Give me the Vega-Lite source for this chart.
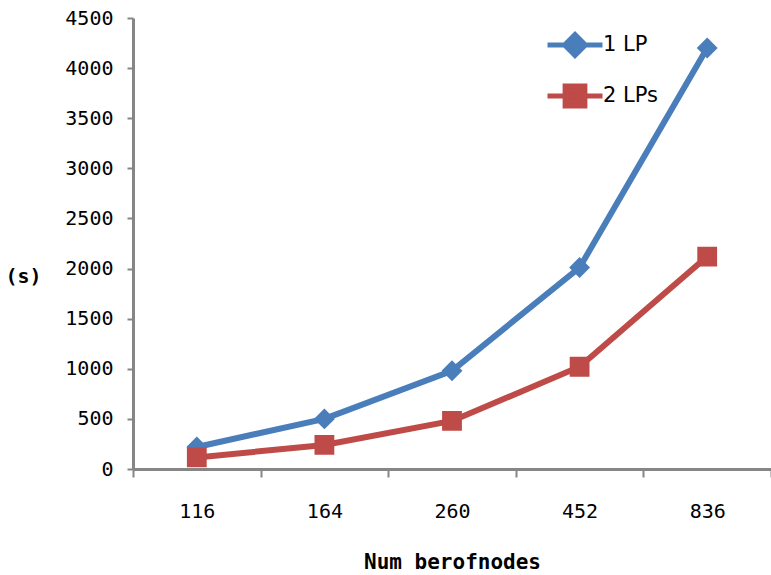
{
  "$schema": "https://vega.github.io/schema/vega-lite/v6.json",
  "autosize": {"type": "none"},
  "width": 638,
  "height": 451,
  "padding": {"left": 133, "top": 18, "right": 0, "bottom": 106},
  "background": "white",
  "config": {"view": {"stroke": null}},
  "data": {
    "values": [
      {"nodes": "116", "series": "1 LP", "time": 220},
      {"nodes": "164", "series": "1 LP", "time": 500},
      {"nodes": "260", "series": "1 LP", "time": 980},
      {"nodes": "452", "series": "1 LP", "time": 2010},
      {"nodes": "836", "series": "1 LP", "time": 4200},
      {"nodes": "116", "series": "2 LPs", "time": 115},
      {"nodes": "164", "series": "2 LPs", "time": 240},
      {"nodes": "260", "series": "2 LPs", "time": 480},
      {"nodes": "452", "series": "2 LPs", "time": 1020},
      {"nodes": "836", "series": "2 LPs", "time": 2120}
    ]
  },
  "encoding": {
    "x": {
      "field": "nodes", "type": "ordinal", "sort": ["116", "164", "260", "452", "836"],
      "scale": {"type": "band", "paddingInner": 0, "paddingOuter": 0},
      "axis": {
        "title": "Num berofnodes", "labelAngle": 0, "tickBand": "extent",
        "domainColor": "#868686", "domainWidth": 3, "tickColor": "#868686", "tickWidth": 2, "tickSize": 8,
        "labelFont": "DejaVu Sans Mono", "labelFontSize": 20, "labelFontWeight": "normal", "labelColor": "black", "labelPadding": 24,
        "titleFont": "DejaVu Sans Mono", "titleFontSize": 21, "titleFontWeight": "bold", "titleColor": "black",
        "titlePadding": 30, "grid": false
      }
    },
    "y": {
      "field": "time", "type": "quantitative",
      "scale": {"domain": [0, 4500], "nice": false},
      "axis": {
        "title": "(s)", "values": [0, 500, 1000, 1500, 2000, 2500, 3000, 3500, 4000, 4500], "format": "d",
        "grid": false, "domainColor": "#868686", "domainWidth": 3, "tickColor": "#868686", "tickWidth": 2, "tickSize": 6,
        "labelFont": "DejaVu Sans Mono", "labelFontSize": 20, "labelFontWeight": "normal", "labelColor": "black", "labelPadding": 14,
        "titleFont": "DejaVu Sans Mono", "titleFontSize": 20, "titleFontWeight": "bold", "titleColor": "black",
        "titleAngle": 0, "titleX": -110, "titleY": 258, "titleAlign": "center", "titleBaseline": "middle"
      }
    },
    "color": {
      "field": "series", "type": "nominal",
      "scale": {"domain": ["1 LP", "2 LPs"], "range": ["#4A7EBB", "#BE4B48"]},
      "legend": {
        "title": null, "orient": "none", "legendX": 412, "legendY": -3, "padding": 0,
        "symbolSize": 3025, "rowPadding": -19, "labelOffset": -2,
        "labelFont": "DejaVu Sans", "labelFontSize": 21, "labelColor": "black",
        "symbolStrokeWidth": 5,
        "encode": {"symbols": {"update": {"stroke": {"scale": "color", "field": "value"}, "strokeWidth": {"value": 5}}}}
      }
    }
  },
  "layer": [
    {
      "mark": {"type": "line", "strokeWidth": 6}
    },
    {
      "mark": {"type": "point", "filled": true, "opacity": 1, "size": 3025, "strokeWidth": 0},
      "encoding": {
        "shape": {
          "field": "series", "type": "nominal",
          "scale": {"domain": ["1 LP", "2 LPs"], "range": ["M-1,0H1M0,-0.38L0.38,0L0,0.38L-0.38,0Z", "M-1,0H1M-0.36,-0.36H0.36V0.36H-0.36Z"]}
        }
      }
    }
  ]
}
